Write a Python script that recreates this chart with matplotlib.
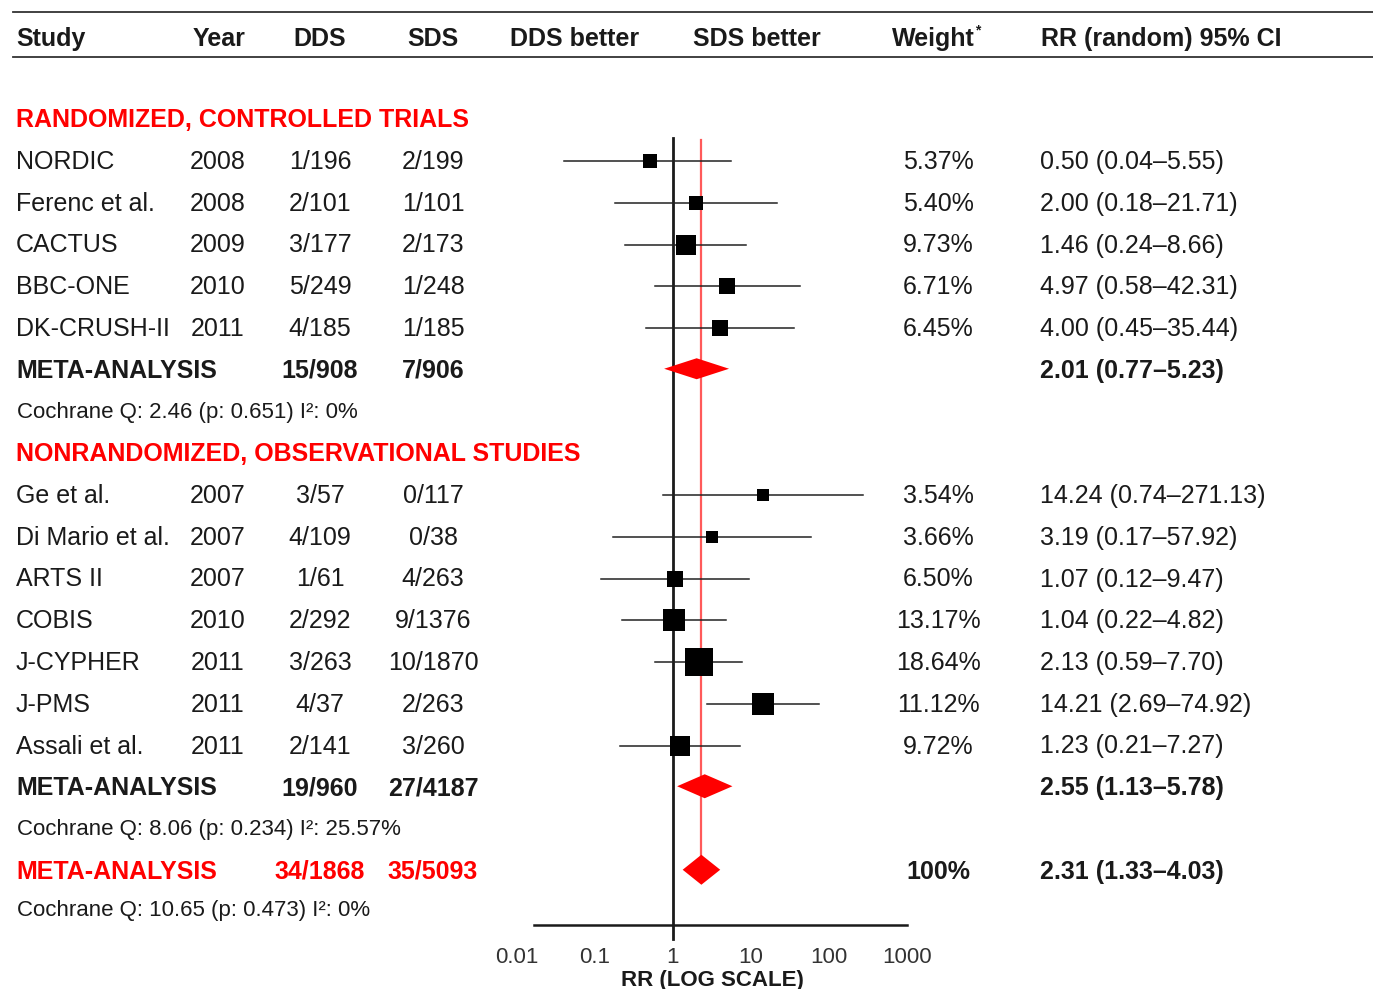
import numpy as np
import matplotlib
matplotlib.use("Agg")
from matplotlib import pyplot as plt

plt.rcParams['font.family'] = ['Liberation Sans', 'DejaVu Sans']

# randomized, controlled trials
rct_study = ["NORDIC", "Ferenc et al.", "CACTUS", "BBC-ONE", "DK-CRUSH-II"]
rct_year = [2008, 2008, 2009, 2010, 2011]
rct_dds = ["1/196", "2/101", "3/177", "5/249", "4/185"]
rct_sds = ["2/199", "1/101", "2/173", "1/248", "1/185"]
rct_rr = [0.50, 2.00, 1.46, 4.97, 4.00]
rct_lo = [0.04, 0.18, 0.24, 0.58, 0.45]
rct_hi = [5.55, 21.71, 8.66, 42.31, 35.44]
rct_w = [5.37, 5.40, 9.73, 6.71, 6.45]

# nonrandomized, observational studies
obs_study = ["Ge et al.", "Di Mario et al.", "ARTS II", "COBIS", "J-CYPHER", "J-PMS", "Assali et al."]
obs_year = [2007, 2007, 2007, 2010, 2011, 2011, 2011]
obs_dds = ["3/57", "4/109", "1/61", "2/292", "3/263", "4/37", "2/141"]
obs_sds = ["0/117", "0/38", "4/263", "9/1376", "10/1870", "2/263", "3/260"]
obs_rr = [14.24, 3.19, 1.07, 1.04, 2.13, 14.21, 1.23]
obs_lo = [0.74, 0.17, 0.12, 0.22, 0.59, 2.69, 0.21]
obs_hi = [271.13, 57.92, 9.47, 4.82, 7.70, 74.92, 7.27]
obs_w = [3.54, 3.66, 6.50, 13.17, 18.64, 11.12, 9.72]

# pooled results: RCT, observational, overall
meta_dds = ["15/908", "19/960", "34/1868"]
meta_sds = ["7/906", "27/4187", "35/5093"]
meta_rr = [2.01, 2.55, 2.31]
meta_lo = [0.77, 1.13, 1.33]
meta_hi = [5.23, 5.78, 4.03]
cochrane = ["Cochrane Q: 2.46 (p: 0.651) I\u00b2: 0%",
            "Cochrane Q: 8.06 (p: 0.234) I\u00b2: 25.57%",
            "Cochrane Q: 10.65 (p: 0.473) I\u00b2: 0%"]

headers = ["Study", "Year", "DDS", "SDS", "DDS better", "SDS better", "Weight", "RR (random) 95% CI"]
ticks = [0.01, 0.1, 1, 10, 100, 1000]

W, H = 1373, 989
RED = "#ff0000"
INK = "#1a1a1a"
FS = 18
FS_SMALL = 16
DY = 2   # text sits a touch lower than the row centre

fig = plt.figure(figsize=(W / 100, H / 100), dpi=100)
tab = fig.add_axes([0, 0, 1, 1])
tab.set_xlim(0, W)
tab.set_ylim(H, 0)
tab.axis('off')

# forest panel, y in the same pixel units as the table
ax_top, ax_bot = 130, 925
ax_l, ax_r = 517, 907
ax = fig.add_axes([ax_l / W, (H - ax_bot) / H, (ax_r - ax_l) / W, (ax_bot - ax_top) / H])
ax.patch.set_alpha(0)
ax.set_xscale('log')
ax.set_xlim(ticks[0], ticks[-1])
ax.set_ylim(ax_bot, ax_top)
for s in ['top', 'right', 'left']:
    ax.spines[s].set_visible(False)
ax.spines['bottom'].set_bounds(0.0165, 1000)
ax.spines['bottom'].set_linewidth(1.8)
ax.spines['bottom'].set_color(INK)
ax.set_xticks(ticks)
ax.set_xticklabels([f"{t:g}" for t in ticks], fontsize=FS - 2, color="#333333")
ax.minorticks_off()
ax.tick_params(axis='x', length=0, pad=16)
ax.set_yticks([])
ax.set_xlabel("RR (LOG SCALE)", fontsize=FS - 2, fontweight='bold', color=INK, labelpad=1)

# column anchors
x_study, x_year, x_dds, x_sds = 16, 218, 320, 433
x_wt, x_ci = 938, 1040
hdr_x = [16, 219, 320, 433, 575, 757, 933, 1041]
hdr_ha = ['left', 'center', 'center', 'center', 'center', 'center', 'center', 'left']

for x, t, ha in zip(hdr_x, headers, hdr_ha):
    tab.text(x, 37 + DY, t, ha=ha, va='center', fontsize=FS, fontweight='bold', color=INK)
tab.text(975, 30, "*", ha='left', va='center', fontsize=10, fontweight='bold', color=INK)
tab.plot([13, W], [12, 12], color="#333333", lw=1.3)
tab.plot([13, W], [57, 57], color="#333333", lw=1.3)

y0, step = 160, 41.75
def row_y(i):
    return y0 + step * i


def study_row(i, name, year, dds, sds, rr, lo, hi, w):
    y = row_y(i)
    ty = y + DY
    tab.text(x_study, ty, name, ha='left', va='center', fontsize=FS, color=INK)
    tab.text(x_year, ty, str(year), ha='center', va='center', fontsize=FS, color=INK)
    tab.text(x_dds, ty, dds, ha='center', va='center', fontsize=FS, color=INK)
    tab.text(x_sds, ty, sds, ha='center', va='center', fontsize=FS, color=INK)
    tab.text(x_wt, ty, f"{w:.2f}%", ha='center', va='center', fontsize=FS, color=INK)
    tab.text(x_ci, ty, f"{rr:.2f} ({lo:.2f}\u2013{hi:.2f})", ha='left', va='center', fontsize=FS, color=INK)
    ax.plot([lo, hi], [y + 1, y + 1], color="#222222", lw=1.1, zorder=3)
    side = 6.3 * np.sqrt(w)   # box side in px grows with the weight
    ax.plot(rr, y + 1, marker='s', ms=side * 0.72, color='black', mec='black', mew=0, zorder=4)


def meta_row(i, k, h, red=False):
    y = row_y(i)
    ty = y + DY
    c = RED if red else INK
    tab.text(x_study, ty, "META-ANALYSIS", ha='left', va='center', fontsize=FS, fontweight='bold', color=c)
    tab.text(x_dds, ty, meta_dds[k], ha='center', va='center', fontsize=FS, fontweight='bold', color=c)
    tab.text(x_sds, ty, meta_sds[k], ha='center', va='center', fontsize=FS, fontweight='bold', color=c)
    if red:
        tab.text(x_wt, ty, "100%", ha='center', va='center', fontsize=FS, fontweight='bold', color=INK)
    tab.text(x_ci, ty, f"{meta_rr[k]:.2f} ({meta_lo[k]:.2f}\u2013{meta_hi[k]:.2f})",
             ha='left', va='center', fontsize=FS, fontweight='bold', color=INK)
    ax.fill([meta_lo[k], meta_rr[k], meta_hi[k], meta_rr[k]],
            [y, y - h / 2, y, y + h / 2], color=RED, lw=0, zorder=4)


tab.text(x_study, row_y(-1) + DY, "RANDOMIZED, CONTROLLED TRIALS", ha='left', va='center',
         fontsize=FS, fontweight='bold', color=RED)
for j in range(len(rct_study)):
    study_row(j, rct_study[j], rct_year[j], rct_dds[j], rct_sds[j], rct_rr[j], rct_lo[j], rct_hi[j], rct_w[j])
meta_row(5, 0, 21)
tab.text(x_study + 1, row_y(6) + DY, cochrane[0], ha='left', va='center', fontsize=FS_SMALL, color=INK)

tab.text(x_study, row_y(7) + DY, "NONRANDOMIZED, OBSERVATIONAL STUDIES", ha='left', va='center',
         fontsize=FS, fontweight='bold', color=RED)
for j in range(len(obs_study)):
    study_row(8 + j, obs_study[j], obs_year[j], obs_dds[j], obs_sds[j], obs_rr[j], obs_lo[j], obs_hi[j], obs_w[j])
meta_row(15, 1, 24)
tab.text(x_study + 1, row_y(16) + DY, cochrane[1], ha='left', va='center', fontsize=FS_SMALL, color=INK)
meta_row(17, 2, 30, red=True)
tab.text(x_study + 1, row_y(17.92) + DY, cochrane[2], ha='left', va='center', fontsize=FS_SMALL, color=INK)

# line of no effect and pooled estimate
ax.plot([1, 1], [138, 939], color=INK, lw=2, clip_on=False, zorder=2)
ax.plot([meta_rr[2], meta_rr[2]], [140, row_y(17)], color="#ff5a5a", lw=1.6, zorder=2)

fig.savefig("out.png", dpi=100)
